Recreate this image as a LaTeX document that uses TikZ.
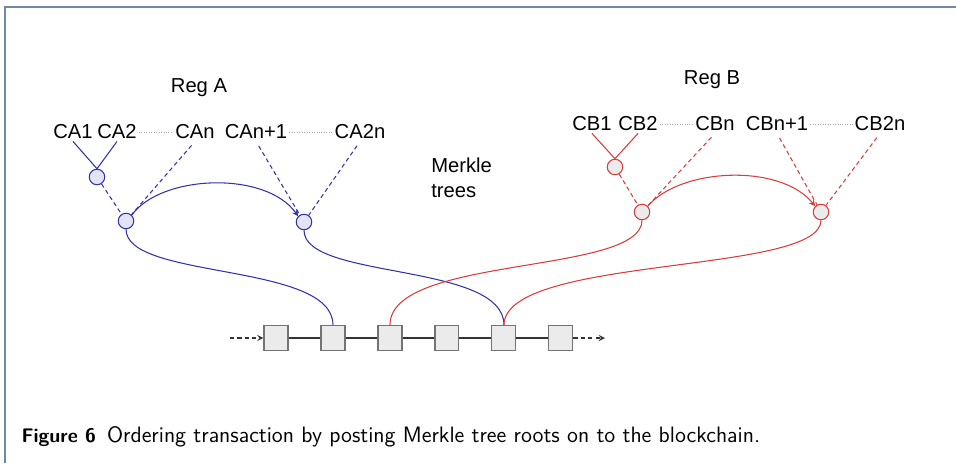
\documentclass[tikz,border=0pt]{standalone}
\usepackage{fontspec}
\newfontfamily\arialfont{Liberation Sans}
\usepackage{xcolor}
\usepackage{tikz}
\usetikzlibrary{arrows,positioning,shapes}
\definecolor{regablue}{HTML}{3232A8}
\definecolor{regbred}{HTML}{D83C3C}
\definecolor{framegray}{HTML}{7088A8}
\definecolor{blockfill}{HTML}{EBEBEB}
\definecolor{bluefill}{HTML}{E2E4F4}
\tikzstyle{txn} = [font=\arialfont\fontsize{11.5}{14.5}\selectfont, inner sep=1pt]
\tikzstyle{block} = [rectangle, draw=gray!90!black, fill=blockfill, minimum width=0.48cm, minimum height=0.5cm, inner sep=0pt]
\tikzstyle{roota} = [circle, draw=regablue, fill=bluefill, minimum size=0.31cm, inner sep=0pt]
\tikzstyle{rootb} = [circle, draw=regbred, fill=blockfill, minimum size=0.31cm, inner sep=0pt]
\tikzstyle{leaf} = [dash pattern=on 2.4pt off 1.8pt]
\tikzstyle{gap} = [densely dotted, gray!70, line width=0.4pt]

\begin{document}
\begin{tikzpicture}[x=0.02cm, y=-0.02cm, >=stealth, node distance=1.14cm, line width=0.6pt]
  \useasboundingbox (0,0) rectangle (956,463);
  \draw[framegray, line width=1pt] (5,463) -- (5,7) -- (956,7);

  % blockchain
  \node[block] (k1) at (276,338) {};
  \node[block] (k2) [right of=k1] {};
  \node[block] (k3) [right of=k2] {};
  \node[block] (k4) [right of=k3] {};
  \node[block] (k5) [right of=k4] {};
  \node[block] (k6) [right of=k5] {};
  \draw[gray!40!black] (k1) -- (k2) -- (k3) -- (k4) -- (k5) -- (k6);
  \coordinate (cin) at (230,338);
  \coordinate (cout) at (605,338);
  \draw[->, gray!40!black, leaf] (cin) -- (k1);
  \draw[->, gray!40!black, leaf] (k6) -- (cout);

  % Reg A
  \node[txn] (rega) at (199,88) {Reg A};
  \node[txn] (ca1) at (73,132) {CA1};
  \node[txn] (ca2) at (117,132) {CA2};
  \node[txn] (can) at (195,132) {CAn};
  \node[txn] (can1) at (256,132) {CAn+1};
  \node[txn] (ca2n) at (360,132) {CA2n};
  \draw[gap] (ca2.east) -- (can.west);
  \draw[gap] (can1.east) -- (ca2n.west);
  \node[roota] (a1) at (97,177) {};
  \node[roota] (a2) at (126,221) {};
  \node[roota] (a3) at (304,222) {};
  \draw[regablue] (ca1.south) -- (a1.north);
  \draw[regablue] (ca2.south) -- (a1.north);
  \draw[regablue, leaf] (a1) -- (a2);
  \draw[regablue, leaf, shorten <=3pt] (can.south) -- (a2);
  \draw[regablue, leaf, shorten <=3pt] (can1.south) -- (a3);
  \draw[regablue, leaf, shorten <=3pt] (ca2n.south) -- (a3);
  \draw[regablue, ->] (a2.north east) .. controls (160,175) and (265,170) .. (a3.north west);
  \draw[regablue] (a2.south) .. controls (126,280) and (333,262) .. (k2.north);
  \draw[regablue] (a3.south) .. controls (304,280) and (504,262) .. (k5.north);

  \node[txn, anchor=west, align=left] (merkle) at (429,178) {Merkle\\trees};

  % Reg B
  \node[txn] (regb) at (712,80) {Reg B};
  \node[txn] (cb1) at (592,124) {CB1};
  \node[txn] (cb2) at (638,124) {CB2};
  \node[txn] (cbn) at (715,124) {CBn};
  \node[txn] (cbn1) at (777,124) {CBn+1};
  \node[txn] (cb2n) at (880,124) {CB2n};
  \draw[gap] (cb2.east) -- (cbn.west);
  \draw[gap] (cbn1.east) -- (cb2n.west);
  \node[rootb] (b1) at (615,167) {};
  \node[rootb] (b2) at (642,212) {};
  \node[rootb] (b3) at (821,212) {};
  \draw[regbred] (cb1.south) -- (b1.north);
  \draw[regbred] (cb2.south) -- (b1.north);
  \draw[regbred, leaf] (b1) -- (b2);
  \draw[regbred, leaf, shorten <=3pt] (cbn.south) -- (b2);
  \draw[regbred, leaf, shorten <=3pt] (cbn1.south) -- (b3);
  \draw[regbred, leaf, shorten <=3pt] (cb2n.south) -- (b3);
  \draw[regbred, ->] (b2.north east) .. controls (680,168) and (780,163) .. (b3.north west);
  \draw[regbred] (b2.south) .. controls (642,275) and (390,255) .. (k3.north);
  \draw[regbred] (b3.south) .. controls (821,275) and (505,255) .. (k5.north);

  \node[anchor=base west, font=\sffamily\fontsize{12.7}{15}\selectfont, inner sep=0pt] (caption) at (21,442)
    {{\fontsize{11.2}{15}\selectfont\bfseries Figure 6}\hspace{0.5em}Ordering transaction by posting Merkle tree roots on to the blockchain.};
\end{tikzpicture}
\end{document}
